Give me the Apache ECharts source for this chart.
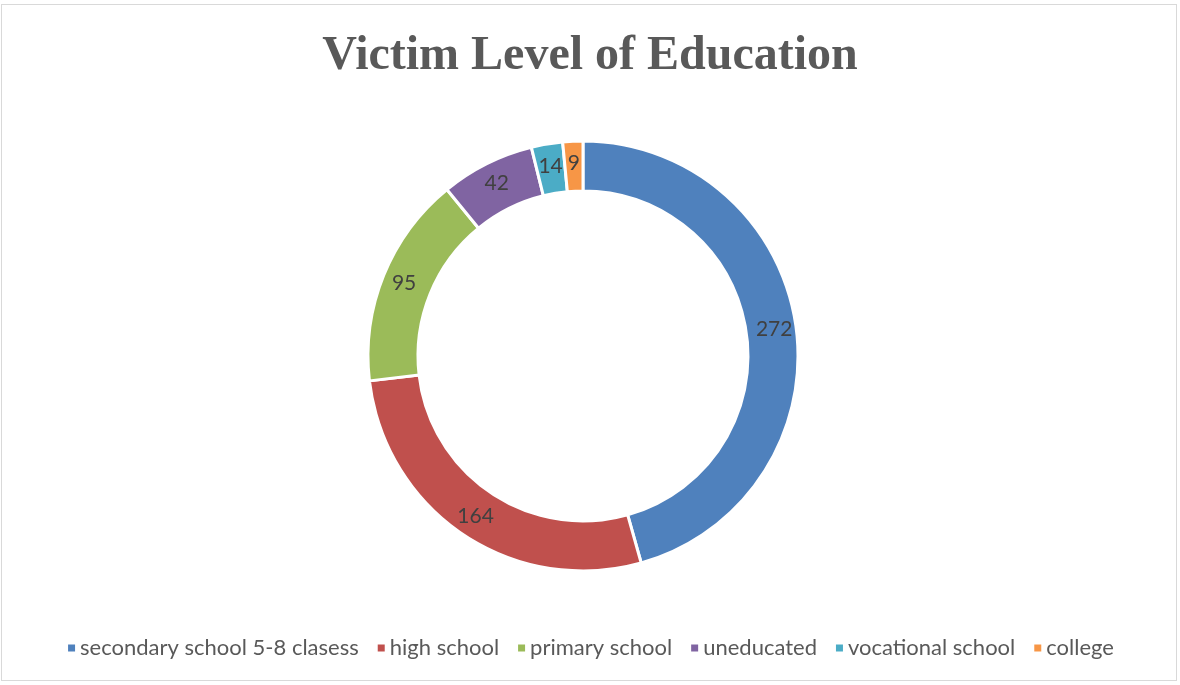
<!DOCTYPE html>
<html>
<head>
<meta charset="utf-8">
<script src="https://cdn.jsdelivr.net/npm/echarts@6/dist/echarts.min.js"></script>
<style>
html,body{margin:0;padding:0;background:#fff;}
#wrap{position:absolute;left:1px;top:4px;width:1176px;height:677px;border:1px solid #d9d9d9;box-sizing:border-box;}
#chart{position:absolute;left:0;top:0;width:1180px;height:685px;}
</style>
</head>
<body>
<div id="wrap"></div>
<div id="chart"></div>
<script>
const categories = ["secondary school 5-8 clasess","high school","primary school","uneducated","vocational school","college"];
const values = [272,164,95,42,14,9];
const colors = ["#4f81bd","#c0504d","#9bbb59","#8064a2","#4bacc6","#f79646"];
const titleText = "Victim Level of Education";

const chart = echarts.init(document.getElementById('chart'), null, {renderer:'canvas'});
chart.setOption({
  animation:false,
  backgroundColor:'transparent',
  color: colors,
  title:{
    text:titleText,
    left:'center', top:28,
    textStyle:{fontFamily:'Liberation Serif', fontWeight:'bold', fontSize:48, color:'#595959'}
  },
  legend:{
    bottom:21, left:'center',
    icon:'rect', itemWidth:9, itemHeight:9, itemGap:17,
    textStyle:{fontFamily:'Lato', fontSize:22, color:'#595959', padding:[0,0,0,-1]},
    data:categories
  },
  series:[{
    type:'pie',
    center:[583,356],
    radius:[165,215],
    startAngle:90,
    clockwise:true,
    avoidLabelOverlap:false,
    itemStyle:{borderColor:'#fff', borderWidth:3},
    label:{position:'inside', formatter:'{c}', fontFamily:'Lato', fontSize:21, color:'#404040'},
    labelLine:{show:false},
    data: categories.map((c,i)=>({name:c, value:values[i]}))
  }]
});
</script>
</body>
</html>
